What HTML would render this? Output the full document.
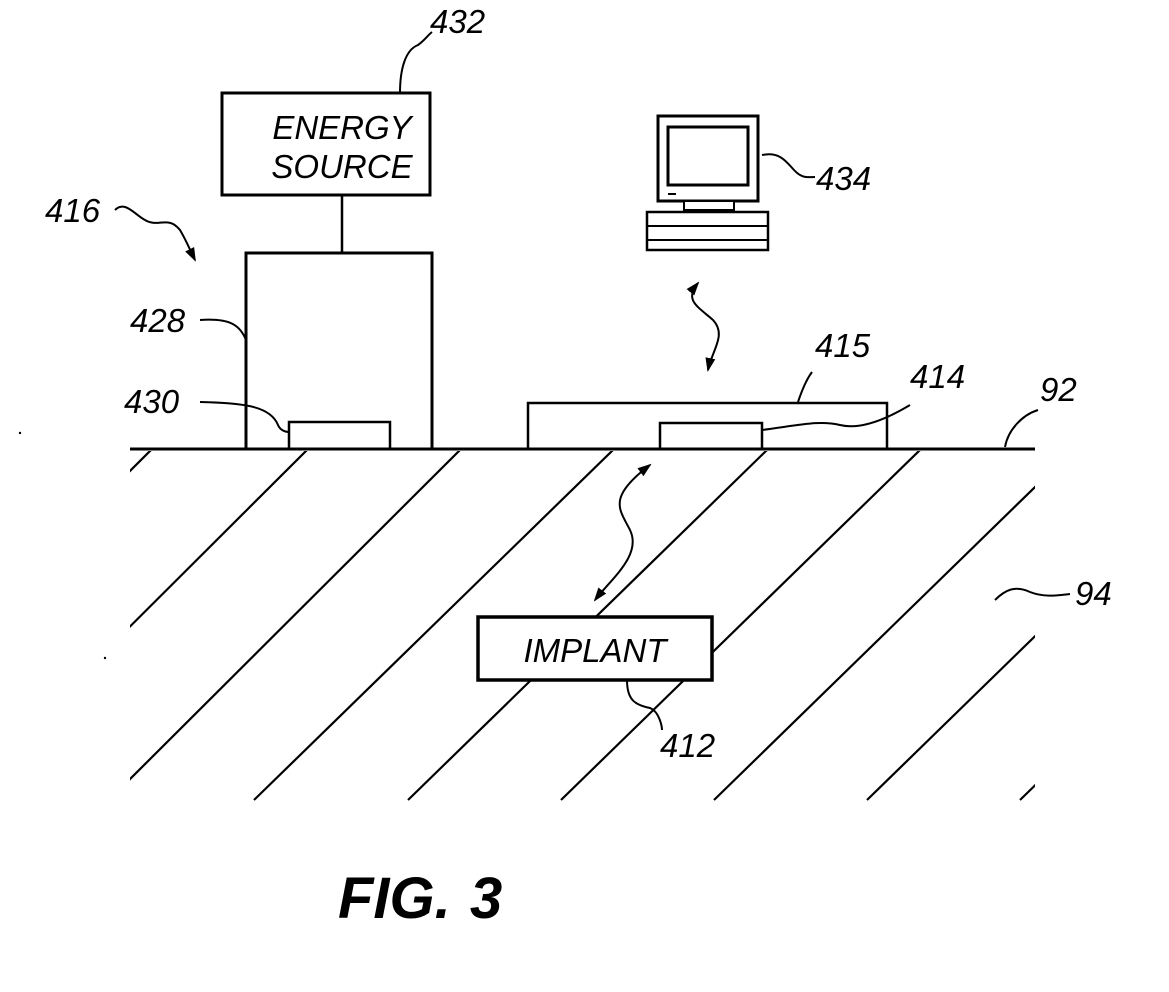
<!DOCTYPE html>
<html><head><style>
html,body{margin:0;padding:0;background:#fff;}
svg{display:block}
text{font-family:"Liberation Sans",sans-serif;font-style:italic;fill:#000}
</style></head><body>
<svg width="1169" height="992" viewBox="0 0 1169 992" xmlns="http://www.w3.org/2000/svg">
<defs>
<clipPath id="c"><rect x="130" y="451" width="905" height="350"/></clipPath>
<marker id="ah" markerWidth="14" markerHeight="12" refX="12" refY="6" orient="auto-start-reverse" markerUnits="userSpaceOnUse">
<path d="M0,1 L14,6 L0,11 Z" fill="#000"/></marker>
</defs>
<g stroke="#000" stroke-width="2.2" fill="none" clip-path="url(#c)">
<line x1="151" y1="450" x2="-200" y2="800"/>
<line x1="307" y1="450" x2="-44" y2="800"/>
<line x1="460" y1="450" x2="109" y2="800"/>
<line x1="613" y1="450" x2="254" y2="800"/>
<line x1="767" y1="450" x2="408" y2="800"/>
<line x1="920" y1="450" x2="561" y2="800"/>
<line x1="1073" y1="450" x2="714" y2="800"/>
<line x1="1226" y1="450" x2="867" y2="800"/>
<line x1="1379" y1="450" x2="1020" y2="800"/>
</g>
<g stroke="#000" fill="#fff">
<rect x="222" y="93" width="208" height="102" stroke-width="3"/>
<line x1="342" y1="195" x2="342" y2="253" stroke-width="2.5"/>
<rect x="246" y="253" width="186" height="196" stroke-width="3"/>
<rect x="289" y="422" width="101" height="27" stroke-width="2.5"/>
<rect x="528" y="403" width="359" height="46" stroke-width="2.5"/>
<rect x="660" y="423" width="102" height="26" stroke-width="2.5"/>
<rect x="478" y="617" width="234" height="63" stroke-width="3.5"/>
<line x1="130" y1="449" x2="1035" y2="449" stroke-width="3"/>
<rect x="658" y="116" width="100" height="85" stroke-width="3"/>
<rect x="668" y="127" width="80" height="58" stroke-width="3"/>
<line x1="668" y1="194" x2="676" y2="194" stroke-width="2"/>
<rect x="684" y="201" width="50" height="9" stroke-width="2"/>
<rect x="647" y="212" width="121" height="38" stroke-width="2.5"/>
<line x1="647" y1="226" x2="768" y2="226" stroke-width="2"/>
<line x1="647" y1="240" x2="768" y2="240" stroke-width="2"/>
</g>
<g stroke="#000" stroke-width="2" fill="none">
<path d="M400,93 C400,70 405,50 418,45 C425,40 428,35 432,32"/>
<path d="M762,155 C785,150 790,170 800,175 C805,178 810,177 815,177"/>
<path d="M115,210 C125,200 135,215 145,220 C158,228 168,215 180,230 C186,240 190,250 195,260" marker-end="url(#ah)"/>
<path d="M200,320 C230,318 240,325 246,340"/>
<path d="M200,402 C240,403 270,405 278,425 C280,430 285,432 289,432"/>
<path d="M798,402 C802,390 806,380 812,372"/>
<path d="M762,430 C800,425 820,420 840,425 C860,430 885,420 910,405"/>
<path d="M1005,447 C1008,430 1022,415 1038,410"/>
<path d="M995,600 C1005,590 1015,585 1030,592 C1045,598 1060,595 1070,594"/>
<path d="M627,680 C627,700 635,705 650,708 C660,712 662,728 662,730"/>
<path d="M708,370 C712,350 727,335 713,320 C697,306 684,300 698,283" marker-start="url(#ah)" marker-end="url(#ah)"/>
<path d="M595,600 C612,578 642,555 630,530 C620,510 606,498 650,465" marker-start="url(#ah)" marker-end="url(#ah)"/>
</g>
<circle cx="20" cy="433" r="1.2" fill="#000"/>
<circle cx="105" cy="658" r="1.2" fill="#000"/>
<g font-size="33">
<text x="342" y="139" text-anchor="middle">ENERGY</text>
<text x="342" y="178" text-anchor="middle">SOURCE</text>
<text x="595" y="662" text-anchor="middle">IMPLANT</text>
<text x="430" y="33">432</text>
<text x="816" y="190">434</text>
<text x="45" y="222">416</text>
<text x="130" y="332">428</text>
<text x="124" y="413">430</text>
<text x="815" y="357">415</text>
<text x="910" y="388">414</text>
<text x="1040" y="401">92</text>
<text x="1075" y="605">94</text>
<text x="660" y="757">412</text>
</g>
<text x="338" y="918" font-size="58" font-weight="bold">FIG.</text>
<text x="470" y="918" font-size="58" font-weight="bold">3</text>
</svg>
</body></html>
